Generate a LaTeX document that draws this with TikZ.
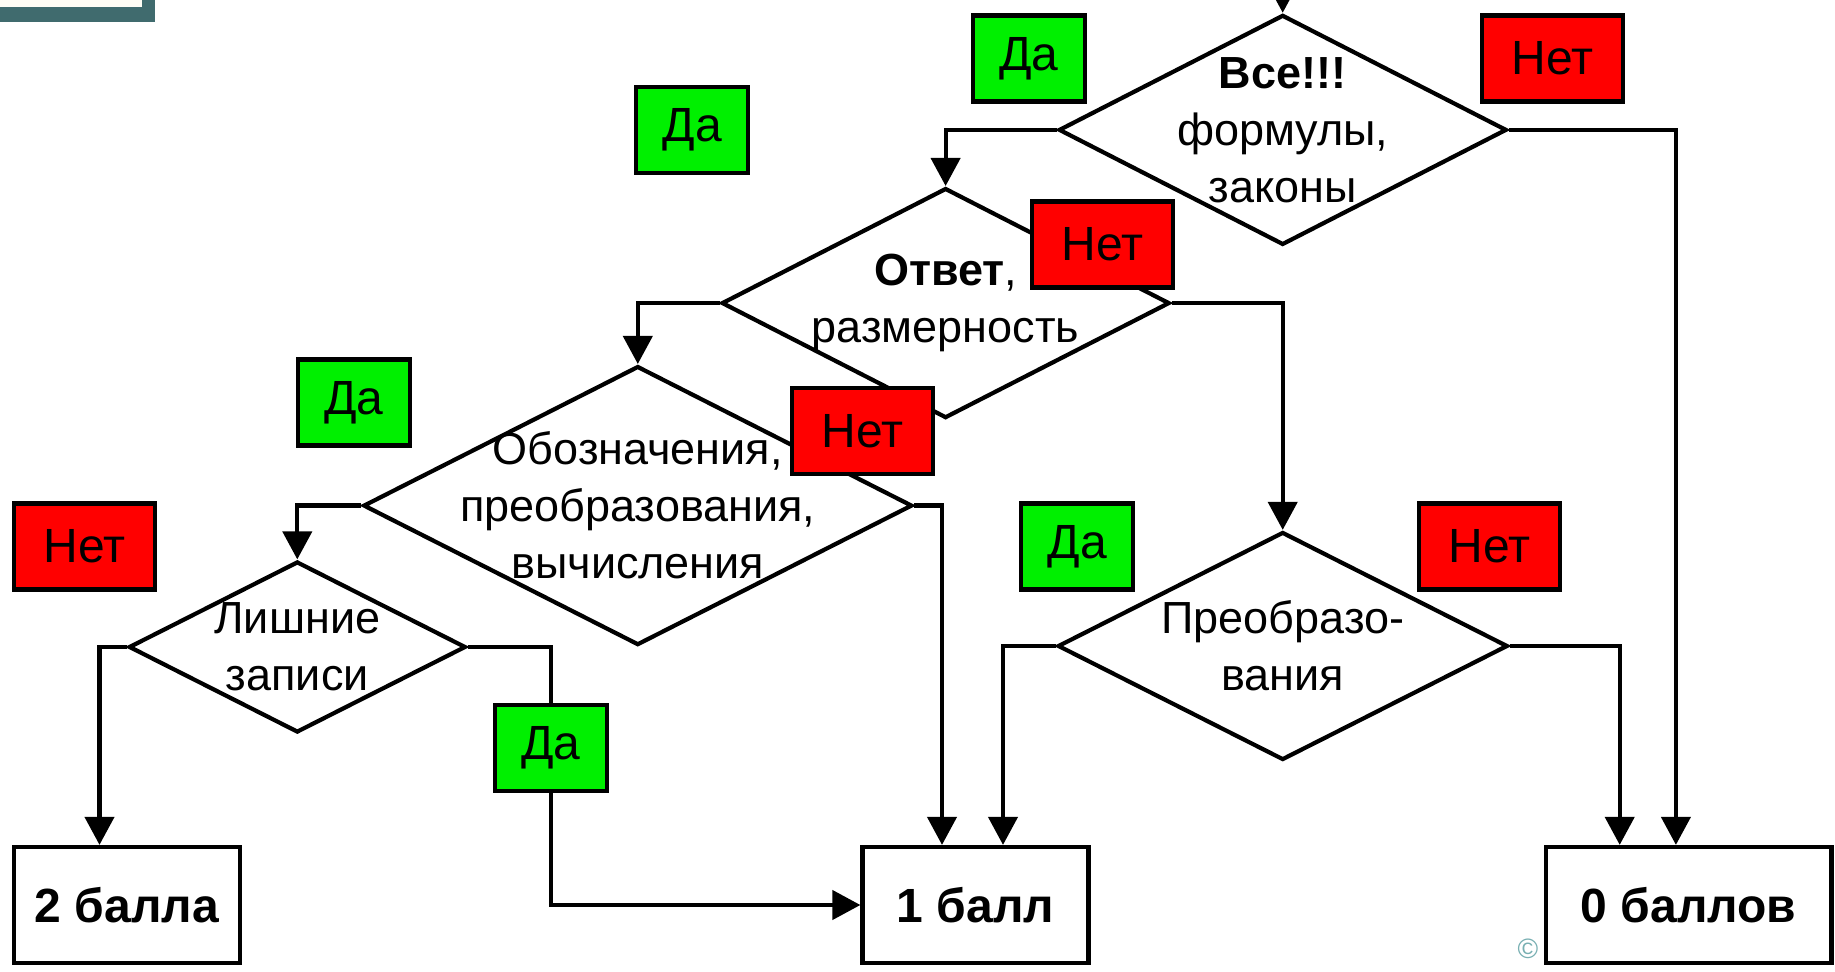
\documentclass[tikz,border=0pt]{standalone}
\usepackage{fontspec}
\setmainfont{Liberation Sans}
\usetikzlibrary{shapes.geometric,arrows.meta}

\definecolor{yesgreen}{RGB}{0,240,0}
\definecolor{nored}{RGB}{255,0,0}
\definecolor{slideteal}{RGB}{64,107,110}
\definecolor{slidecream}{RGB}{255,253,245}
\definecolor{copyteal}{RGB}{120,175,178}

\tikzset{every picture/.style={line width=2.1pt}}
\tikzset{
  decision/.style={shape=diamond, draw, inner sep=0pt},
  dtext/.style={inner sep=0.75pt, align=center, font=\fontsize{22.5}{28.5}\selectfont},
  result/.style={draw, fill=white, minimum height=58pt, inner sep=0pt, font=\fontsize{24}{28}\selectfont\bfseries},
  yesbox/.style={draw, fill=yesgreen, minimum width=56pt, minimum height=43pt, inner sep=0pt, font=\fontsize{24}{28}\selectfont},
  nobox/.style={draw, fill=nored, minimum width=70.5pt, minimum height=43pt, inner sep=0pt, font=\fontsize{24}{28}\selectfont},
  flow/.style={-{Triangle[length=14pt,width=14.5pt]}}
}

\begin{document}
\begin{tikzpicture}[x=0.5pt,y=0.5pt,yscale=-1,xscale=1]
        \useasboundingbox (0,0) rectangle (1835,972);

        %Shape: slide frame corner
        \fill[slideteal] (0,0) rectangle (155,22);
        \fill[slidecream] (0,0) rectangle (142,7);

        %Shape: Diamonds
        \node[decision, minimum width=224pt, minimum height=115pt] (d1) at (1282.7,129.9) {};
        \node[decision, minimum width=224pt, minimum height=115pt] (d2) at (945.6,303.1) {};
        \node[decision, minimum width=274.5pt, minimum height=139.5pt] (d3) at (637.8,505.6) {};
        \node[decision, minimum width=225pt, minimum height=114pt] (d4) at (1282.7,646) {};
        \node[decision, minimum width=168.5pt, minimum height=85.5pt] (d5) at (297.3,647) {};

        % Text Node
        \node[dtext] (d1text) at (d1) {\textbf{Все!!!}\\формулы,\\законы};
        % Text Node
        \node[dtext] (d2text) at (d2) {\textbf{Ответ},\\размерность};
        % Text Node
        \node[dtext] (d3text) at (d3) {Обозначения,\\преобразования,\\вычисления};
        % Text Node
        \node[dtext] (d4text) at (d4) {Преобразо-\\вания};
        % Text Node
        \node[dtext] (d5text) at (d5) {Лишние\\записи};

        %Shape: Rectangles
        \node[result, minimum width=113pt] (r2) at (127,905) {2 балла};
        \node[result, minimum width=113pt] (r1) at (975.5,905) {1 балл};
        \node[result, minimum width=142.75pt] (r0) at (1688.7,905) {0 баллов};

        %Straight Lines
        \coordinate (entry) at (1282.7,0);
        \draw[flow] (entry) -- (d1.north);
        \draw[flow] (d1.west) -| (d2.north);
        \draw[flow] (d1.east) -| ([xshift=-6.4pt]r0.north);
        \draw[flow] (d2.west) -| (d3.north);
        \draw[flow] (d2.east) -| (d4.north);
        \draw[flow] (d3.west) -| (d5.north);
        \draw[flow] (d3.east) -| ([xshift=-16.75pt]r1.north);
        \draw[flow] (d4.west) -| ([xshift=13.75pt]r1.north);
        \draw[flow] (d4.east) -| ([xshift=-34.5pt]r0.north);
        \draw[flow] (d5.west) -| ([xshift=-13.75pt]r2.north);
        \coordinate (bend) at (550.6,747.8);
        \draw[flow] (d5.east) -| (bend) |- (r1.west);

        % Label Nodes
        \node[yesbox] (yes1) at (1028.7,58.5) {Да};
        \node[nobox] (no1) at (1552.4,58.5) {Нет};
        \node[yesbox] (yes2) at (692.2,129.9) {Да};
        \node[nobox] (no2) at (1102.4,244.6) {Нет};
        \node[yesbox] (yes3) at (354,402.6) {Да};
        \node[nobox] (no3) at (862.5,431.3) {Нет};
        \node[nobox] (no4) at (84.8,546.5) {Нет};
        \node[yesbox] (yes4) at (1077.3,546.5) {Да};
        \node[nobox] (no5) at (1489.2,546.5) {Нет};
        \node[yesbox] (yes5) at (bend) {Да};

        % Text Node
        \node[text=copyteal, inner sep=0pt, font=\fontsize{14}{14}\selectfont] (copymark) at (1528,949) {©};

\end{tikzpicture}
\end{document}
